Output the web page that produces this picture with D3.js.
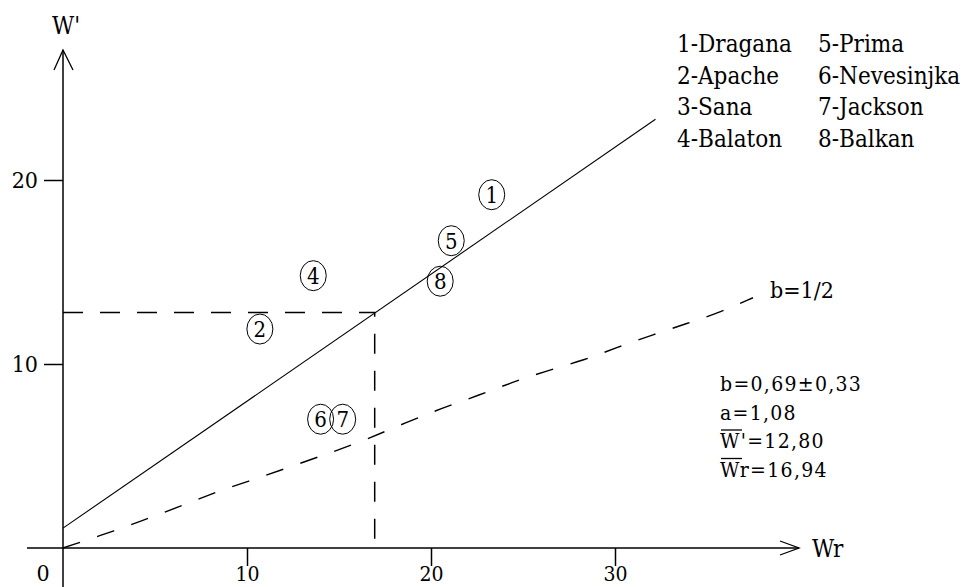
<!DOCTYPE html>
<html>
<head>
<meta charset="utf-8">
<script src="https://cdn.jsdelivr.net/npm/d3@7"></script>
<style>
  body { margin: 0; background: #fff; }
  svg text { fill: #000; }
</style>
</head>
<body>
<script>
// varieties (circled numbers)
var ids = ["1", "2", "4", "5", "6", "7", "8"];
var wr  = [23.3, 10.7, 13.6, 21.1, 14.0, 15.2, 20.5];
var wp  = [19.2, 11.9, 14.8, 16.7, 7.0, 7.0, 14.5];

var legendLeft  = ["1-Dragana", "2-Apache", "3-Sana", "4-Balaton"];
var legendRight = ["5-Prima", "6-Nevesinjka", "7-Jackson", "8-Balkan"];

// regression W' = a + b*Wr
var a = 1.08, b = 0.69;
var wrMean = 16.94, wpMean = 12.80;
var lineEnd = 32.2;

// b = 1/2 curve
var halfX = [0, 3, 4.6, 6.6, 8.6, 10.6, 12.6, 14.6, 16.5, 18.6, 20.6, 22.6, 24.4, 26.2, 28.3, 30.1, 32.1, 33.9, 35.7, 37.5];
var halfY = [0, 1.0, 1.6, 2.35, 3.15, 3.8, 4.5, 5.2, 5.9, 6.8, 7.6, 8.3, 9.0, 9.6, 10.2, 10.9, 11.6, 12.2, 12.8, 13.6];

var xTicks = [10, 20, 30];
var yTicks = [10, 20];

var notes = ["b=0,69\u00b10,33", "a=1,08", "W'=12,80", "Wr=16,94"];

var serif = "'DejaVu Serif', serif";
var cond = "'DejaVu Serif Condensed', 'DejaVu Serif', serif";

var width = 968, height = 587;
var svg = d3.select("body").append("svg")
    .attr("width", width)
    .attr("height", height)
    .attr("font-family", cond)
    .attr("font-stretch", "condensed");

var x = d3.scaleLinear().domain([0, 40]).range([63, 63 + 40 * 18.4]);
var y = d3.scaleLinear().domain([0, 20]).range([548, 180]);

// axes lines + arrows
svg.append("line")
    .attr("x1", x(0)).attr("x2", x(0))
    .attr("y1", 50).attr("y2", height)
    .attr("stroke", "#000").attr("stroke-width", 1.5);
svg.append("line")
    .attr("x1", 27).attr("x2", x(40))
    .attr("y1", y(0)).attr("y2", y(0))
    .attr("stroke", "#000").attr("stroke-width", 1.5);
svg.append("path")
    .attr("d", `M${x(0) - 9},${70} L${x(0)},${50} L${x(0) + 10},${70}`)
    .attr("fill", "none").attr("stroke", "#000").attr("stroke-width", 1.3);
svg.append("path")
    .attr("d", `M${x(40) - 19},${y(0) - 7} L${x(40)},${y(0)} L${x(40) - 19},${y(0) + 7}`)
    .attr("fill", "none").attr("stroke", "#000").attr("stroke-width", 1.3);

svg.append("g")
    .attr("transform", `translate(${x(0)},0)`)
    .call(d3.axisLeft(y).tickValues(yTicks).tickSize(19).tickSizeOuter(0).tickPadding(6))
    .call(g => g.attr("font-family", null))
    .call(g => g.select(".domain").remove())
    .call(g => g.selectAll("line").attr("stroke-width", 1.5))
    .call(g => g.selectAll("text").attr("font-size", 23));

svg.append("g")
    .attr("transform", `translate(0,${y(0)})`)
    .call(d3.axisBottom(x).tickValues(xTicks).tickSize(18).tickSizeOuter(0).tickPadding(0))
    .call(g => g.attr("font-family", null))
    .call(g => g.select(".domain").remove())
    .call(g => g.selectAll("line").attr("stroke-width", 1.5))
    .call(g => g.selectAll("text").attr("font-size", 21));

svg.append("text").attr("x", 43).attr("y", 581).attr("text-anchor", "middle")
    .attr("font-size", 23).text("0");
svg.append("text").attr("x", 52).attr("y", 34)
    .attr("font-size", 24).text("W'");
svg.append("text").attr("x", 812).attr("y", 557)
    .attr("font-size", 24).text("Wr");

// regression line
var line = d3.line().x(d => x(d[0])).y(d => y(d[1]));
svg.append("path")
    .datum([[0, a], [lineEnd, a + b * lineEnd]])
    .attr("d", line)
    .attr("fill", "none").attr("stroke", "#000").attr("stroke-width", 1.1);

// mean guides
svg.append("path")
    .datum([[0, wpMean], [wrMean, wpMean], [wrMean, 0]])
    .attr("d", line)
    .attr("fill", "none").attr("stroke", "#000").attr("stroke-width", 1.5)
    .attr("stroke-dasharray", "20 17");

// b = 1/2
svg.append("path")
    .datum(halfX.map((d, i) => [d, halfY[i]]))
    .attr("d", line.curve(d3.curveBasis))
    .attr("fill", "none").attr("stroke", "#000").attr("stroke-width", 1.4)
    .attr("stroke-dasharray", "18 18");
svg.append("text").attr("x", 770).attr("y", 298)
    .attr("font-size", 23).text("b=1/2");

// circled points
var pts = svg.append("g").selectAll("g")
    .data(ids.map((d, i) => ({id: d, x: wr[i], y: wp[i]})))
    .enter().append("g")
      .attr("transform", d => `translate(${x(d.x)},${y(d.y)})`);
pts.append("ellipse")
    .attr("rx", 13).attr("ry", 15)
    .attr("fill", "none").attr("stroke", "#000").attr("stroke-width", 1);
pts.append("text")
    .attr("text-anchor", "middle").attr("dy", "0.36em")
    .attr("font-size", 22).text(d => d.id);

// legend
var leg = svg.append("g").attr("font-size", 24);
leg.selectAll(".l").data(legendLeft).enter().append("text")
    .attr("x", 677).attr("y", (d, i) => 52 + i * 31.6).text(d => d);
leg.selectAll(".r").data(legendRight).enter().append("text")
    .attr("x", 818).attr("y", (d, i) => 52 + i * 31.6).text(d => d);

// notes
var nt = svg.append("g")
    .attr("font-family", serif).attr("font-stretch", null);
nt.selectAll("text").data(notes).enter().append("text")
    .attr("x", 720).attr("y", (d, i) => 391 + i * 28.5)
    .attr("font-size", 21).attr("letter-spacing", 1.3).text(d => d);
// overbars for the means
[2, 3].forEach(function(i) {
  nt.append("line")
    .attr("x1", 721).attr("x2", 742)
    .attr("y1", 391 + i * 28.5 - 18).attr("y2", 391 + i * 28.5 - 18)
    .attr("stroke", "#000").attr("stroke-width", 1.3);
});
</script>
</body>
</html>
